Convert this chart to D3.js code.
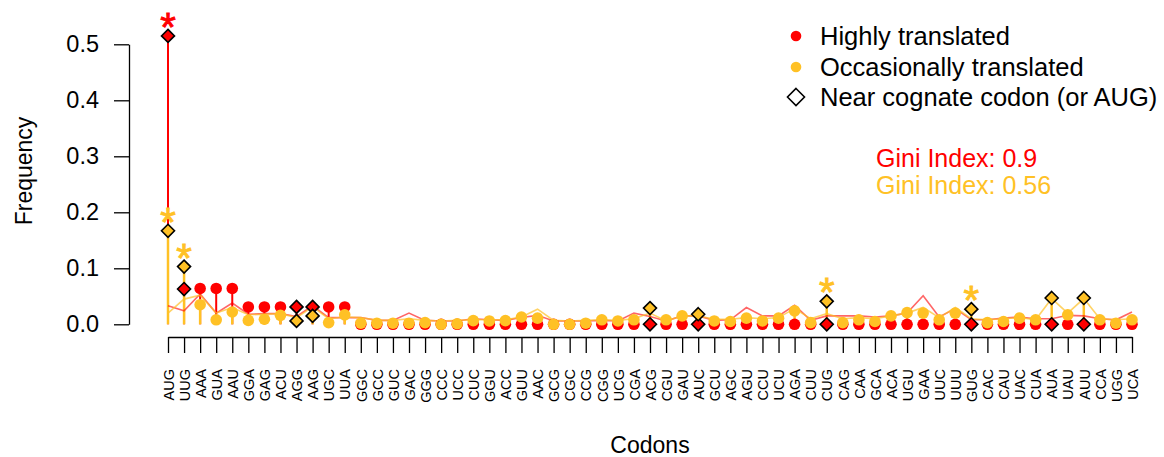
<!DOCTYPE html>
<html>
<head>
<meta charset="utf-8">
<script src="https://cdn.jsdelivr.net/npm/d3@7"></script>
<style>
  body { margin: 0; background: #fff; }
  text { font-family: "Liberation Sans", Arial, sans-serif; fill: #000; }
</style>
</head>
<body>
<script>
var W = 1164, H = 457;

var redColor = "#ff0000";
var orangeColor = "#ffc125";

// codons in plotted order
var codons = ["AUG","UUG","AAA","GUA","AAU","GGA","GAG","ACU","AGG","AAG","UGC","UUA",
  "GGC","GCC","GUC","GAC","GGG","CCC","UCC","CUC","GGU","ACC","GUU","AAC","GCG","CGC",
  "CCG","CGG","UCG","CGA","ACG","CGU","GAU","AUC","GCU","AGC","AGU","CCU","UCU","AGA",
  "CUU","CUG","CAG","CAA","GCA","ACA","UGU","GAA","UUC","UUU","GUG","CAC","CAU","UAC",
  "CUA","AUA","UAU","AUU","CCA","UGG","UCA"];

// highly translated frequencies (points)
var highly = [0.515,0.063,0.064,0.064,0.064,0.031,0.031,0.031,0.031,0.031,0.031,0.031,
  0,0,0,0,0,0,0,0,0,0,0,0,0,0,
  0,0,0,0,0,0,0,0,0,0,0,0,0,0,
  0,0,0,0,0,0,0,0,0,0,0,0,0,0,
  0,0,0,0,0,0,0];

// occasionally translated frequencies (points)
var occasionally = [0.167,0.103,0.035,0.008,0.022,0.007,0.009,0.016,0.006,0.015,0.003,0.017,
  0.002,0.002,0.002,0.002,0.003,0.000,0.001,0.0065,0.006,0.0065,0.013,0.011,0.000,0.000,
  0.002,0.008,0.006,0.008,0.029,0.008,0.015,0.018,0.006,0.005,0.011,0.006,0.011,0.024,
  0.003,0.041,0.003,0.008,0.005,0.015,0.021,0.020,0.008,0.020,0.027,0.003,0.005,0.011,
  0.008,0.047,0.017,0.047,0.008,0.002,0.008];

// thin background lines
var highlyLine = [0.033,0.024,0.054,0.020,0.038,0.018,0.019,0.019,0.014,0.033,0.012,0.012,
  0.012,0.007,0.007,0.020,0.007,0.006,0.006,0.010,0.008,0.007,0.012,0.016,0.006,0.006,
  0.006,0.007,0.006,0.020,0.014,0.006,0.015,0.015,0.007,0.008,0.030,0.015,0.015,0.034,
  0.007,0.015,0.015,0.015,0.013,0.015,0.020,0.051,0.013,0.028,0.008,0.008,0.011,0.013,
  0.010,0.010,0.016,0.015,0.010,0.008,0.022];

var occasionallyLine = [0.020,0.045,0.052,0.020,0.030,0.017,0.018,0.019,0.012,0.031,0.010,0.013,
  0.012,0.007,0.007,0.010,0.007,0.006,0.007,0.008,0.008,0.008,0.013,0.027,0.007,0.006,
  0.007,0.008,0.007,0.010,0.020,0.006,0.015,0.015,0.009,0.009,0.012,0.010,0.012,0.028,
  0.010,0.019,0.010,0.012,0.010,0.015,0.020,0.030,0.012,0.030,0.010,0.008,0.010,0.012,
  0.008,0.046,0.020,0.046,0.010,0.008,0.010];

var nearCognate = ["AUG","UUG","AGG","AAG","ACG","AUC","CUG","GUG","AUA","AUU"];
var highlyStars = ["AUG"];
var occasionallyStars = ["AUG","UUG","CUG","GUG"];

var yTicks = [0, 0.1, 0.2, 0.3, 0.4, 0.5];
var legendLabels = ["Highly translated", "Occasionally translated", "Near cognate codon (or AUG)"];
var giniLabels = ["Gini Index: 0.9", "Gini Index: 0.56"];

var svg = d3.select("body").append("svg")
    .attr("width", W)
    .attr("height", H);

var x = d3.scalePoint().domain(codons).range([168, 1132]);
var y = d3.scaleLinear().domain([0, 0.5]).range([324.3, 44.3]);

// y axis
var yAxis = d3.axisLeft(y).tickValues(yTicks).tickFormat(d3.format(".1f"))
    .tickSize(15).tickSizeOuter(0).tickPadding(15);
var gy = svg.append("g").attr("transform", "translate(129,0)").call(yAxis);
gy.selectAll("path, line").attr("stroke", "#000").attr("stroke-width", 1.3);
gy.selectAll("text").style("font-size", "23.5px").style("font-family", "Liberation Sans, Arial, sans-serif");

// x axis
var xAxis = d3.axisBottom(x).tickSize(16).tickSizeOuter(0);
var gx = svg.append("g").attr("transform", "translate(0,337)").call(xAxis);
gx.selectAll("path, line").attr("stroke", "#000").attr("stroke-width", 1.3);
gx.selectAll("text")
    .style("font-size", "14.5px")
    .style("font-family", "Liberation Sans, Arial, sans-serif")
    .attr("transform", "rotate(-90)")
    .attr("text-anchor", "end")
    .attr("x", -32)
    .attr("y", 0)
    .attr("dy", "0.36em");

// axis titles
svg.append("text")
    .attr("transform", "translate(32,171) rotate(-90)")
    .attr("text-anchor", "middle")
    .style("font-size", "23px")
    .text("Frequency");
svg.append("text")
    .attr("x", 650).attr("y", 453)
    .attr("text-anchor", "middle")
    .style("font-size", "23px")
    .text("Codons");

var rows = codons.map(function (c, i) {
    return { codon: c, hi: highly[i], oc: occasionally[i], hl: highlyLine[i], ol: occasionallyLine[i],
             near: nearCognate.indexOf(c) >= 0 };
});

// stems
svg.selectAll(".stemHi").data(rows).enter().append("line")
    .attr("x1", d => x(d.codon)).attr("x2", d => x(d.codon))
    .attr("y1", y(0)).attr("y2", d => y(d.hi))
    .attr("stroke", redColor).attr("stroke-width", 2);
svg.selectAll(".stemOc").data(rows).enter().append("line")
    .attr("x1", d => x(d.codon)).attr("x2", d => x(d.codon))
    .attr("y1", y(0)).attr("y2", d => y(d.oc))
    .attr("stroke", orangeColor).attr("stroke-width", 2.5);

// thin lines
var lineHi = d3.line().x(d => x(d.codon)).y(d => y(d.hl));
var lineOc = d3.line().x(d => x(d.codon)).y(d => y(d.ol));
svg.append("path").datum(rows).attr("d", lineHi)
    .attr("fill", "none").attr("stroke", redColor).attr("stroke-opacity", 0.6).attr("stroke-width", 1.6);
svg.append("path").datum(rows).attr("d", lineOc)
    .attr("fill", "none").attr("stroke", orangeColor).attr("stroke-opacity", 0.7).attr("stroke-width", 1.6);

function diamond(cx, cy, s) {
    return "M" + cx + "," + (cy - s) + "L" + (cx + s) + "," + cy + "L" + cx + "," + (cy + s) + "L" + (cx - s) + "," + cy + "Z";
}

function drawPoints(key, color) {
    svg.selectAll(".c" + key).data(rows.filter(d => !d.near)).enter().append("circle")
        .attr("cx", d => x(d.codon)).attr("cy", d => y(d[key]))
        .attr("r", 5.8).attr("fill", color);
    svg.selectAll(".d" + key).data(rows.filter(d => d.near)).enter().append("path")
        .attr("d", d => diamond(x(d.codon), y(d[key]), 6.5))
        .attr("fill", color).attr("stroke", "#000").attr("stroke-width", 1.6);
}
drawPoints("hi", redColor);
drawPoints("oc", orangeColor);

// significance stars
function drawStars(list, key, color) {
    svg.selectAll(".s" + key).data(rows.filter(d => list.indexOf(d.codon) >= 0)).enter().append("text")
        .attr("x", d => x(d.codon)).attr("y", d => y(d[key]) + 5)
        .attr("text-anchor", "middle")
        .style("font-size", "40px")
        .style("fill", color)
        .style("stroke", color)
        .style("stroke-width", 0.9)
        .text("*");
}
drawStars(highlyStars, "hi", redColor);
drawStars(occasionallyStars, "oc", orangeColor);

// legend
var legendY = [36, 67, 97];
var legendBase = [45, 76, 106];
svg.append("circle").attr("cx", 796).attr("cy", legendY[0]).attr("r", 5.3).attr("fill", redColor);
svg.append("circle").attr("cx", 796).attr("cy", legendY[1]).attr("r", 5.3).attr("fill", orangeColor);
svg.append("path").attr("d", diamond(796, legendY[2], 8.5))
    .attr("fill", "none").attr("stroke", "#000").attr("stroke-width", 1.6);
svg.selectAll(".leg").data(legendLabels).enter().append("text")
    .attr("x", 820).attr("y", (d, i) => legendBase[i])
    .style("font-size", "25.5px")
    .text(d => d);

// gini indices
svg.selectAll(".gini").data(giniLabels).enter().append("text")
    .attr("x", 876).attr("y", (d, i) => [166.5, 193.5][i])
    .style("font-size", "25px")
    .style("fill", (d, i) => i === 0 ? redColor : orangeColor)
    .text(d => d);
</script>
</body>
</html>
